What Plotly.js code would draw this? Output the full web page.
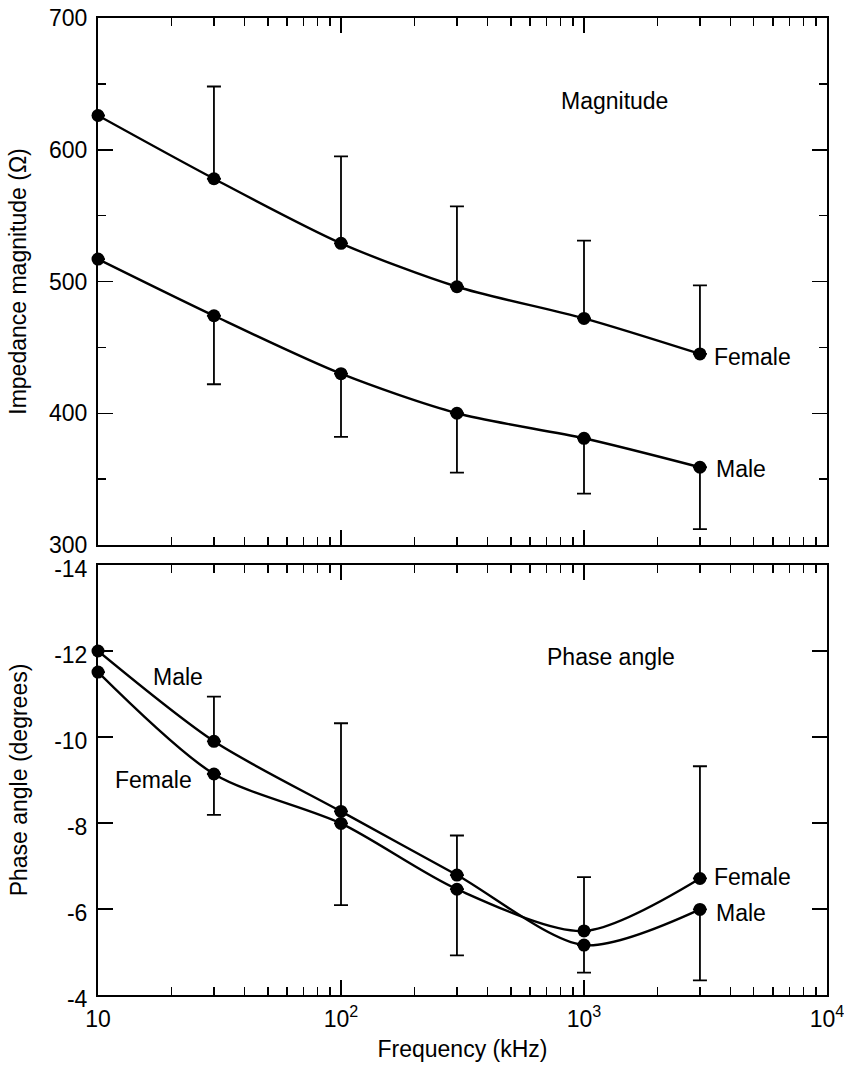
<!DOCTYPE html>
<html>
<head>
<meta charset="utf-8">
<script src="https://cdn.plot.ly/plotly-3.0.1.min.js"></script>
<style>html,body{margin:0;padding:0;background:#fff;}#chart{width:844px;height:1065px;}</style>
</head>
<body>
<div id="chart"></div>
<script>
// Frequencies (kHz)
const freq = [10, 30, 100, 300, 1000, 3000];

// Impedance magnitude (ohm)
const femaleMag = [626, 578, 529, 496, 472, 445];
const femaleMagUpper = [null, 648, 595, 557, 531, 497];
const maleMag = [517, 474, 430, 400, 381, 359];
const maleMagLower = [null, 422, 382, 355, 339, 312];

// Phase angle (degrees)
const malePhase = [-12.0, -9.9, -8.27, -6.79, -5.16, -5.99];
const femalePhase = [-11.51, -9.14, -7.99, -6.46, -5.49, -6.71];
// error bar ends
const malePhaseEnd = [null, -10.94, -10.32, -7.71, -4.52, -4.34];
const femalePhaseEnd = [null, -8.19, -6.09, -4.92, -6.74, -9.32];

// ticks
const majorTicks = [10, 100, 1000, 10000];
const majorText = ["10", "10<sup>2</sup>", "10<sup>3</sup>", "10<sup>4</sup>"];
const minorTicks = [20,30,40,50,60,70,80,90,200,300,400,500,600,700,800,900,2000,3000,4000,5000,6000,7000,8000,9000];
const magTicks = [300, 400, 500, 600, 700];
const magMinorTicks = [350, 450, 550, 650];
const phaseTicks = [-14, -12, -10, -8, -6, -4];
const phaseText = ["-14", "-12", "-10", "-8", "-6", "-4"];

function errs(vals, ends) {
  const plus = [], minus = [];
  for (let i = 0; i < vals.length; i++) {
    const e = ends[i];
    if (e === null) { plus.push(0); minus.push(0); }
    else if (e > vals[i]) { plus.push(e - vals[i]); minus.push(0); }
    else { plus.push(0); minus.push(vals[i] - e); }
  }
  return {type: 'data', symmetric: false, array: plus, arrayminus: minus,
          color: '#000', thickness: 1.8, width: 7};
}

const lineStyle = {color: '#000', width: 2.4, shape: 'spline', smoothing: 0.8};
const markerStyle = {color: '#000', size: 13};

const traces = [
  {x: freq, y: femaleMag, xaxis: 'x', yaxis: 'y', mode: 'lines+markers', line: lineStyle, marker: markerStyle,
   error_y: errs(femaleMag, femaleMagUpper), name: 'Female', cliponaxis: false},
  {x: freq, y: maleMag, xaxis: 'x', yaxis: 'y', mode: 'lines+markers', line: lineStyle, marker: markerStyle,
   error_y: errs(maleMag, maleMagLower), name: 'Male', cliponaxis: false},
  {x: freq, y: malePhase, xaxis: 'x2', yaxis: 'y2', mode: 'lines+markers', line: lineStyle, marker: markerStyle,
   error_y: errs(malePhase, malePhaseEnd), name: 'Male', cliponaxis: false},
  {x: freq, y: femalePhase, xaxis: 'x2', yaxis: 'y2', mode: 'lines+markers', line: lineStyle, marker: markerStyle,
   error_y: errs(femalePhase, femalePhaseEnd), name: 'Female', cliponaxis: false}
];

const fontFam = '"Liberation Sans", Arial, Helvetica, sans-serif';
const FS = 23;
const baseX = {
  type: 'log', range: [1, 4], tickmode: 'array', tickvals: majorTicks, ticktext: majorText,
  ticks: 'inside', ticklen: 15, tickwidth: 1.5, tickcolor: '#000',
  minor: {tickmode: 'array', tickvals: minorTicks, ticks: 'inside', ticklen: 8, tickwidth: 1.3, tickcolor: '#000'},
  showline: true, linecolor: '#000', linewidth: 2, mirror: 'ticks', showgrid: false, zeroline: false,
  ticklabeloverflow: 'allow'
};

const layout = {
  width: 844, height: 1065,
  margin: {l: 98, r: 17, t: 18, b: 70},
  paper_bgcolor: '#fff', plot_bgcolor: '#fff',
  showlegend: false,
  font: {family: fontFam, color: '#000', size: FS},
  xaxis: Object.assign({}, baseX, {domain: [0, 1], anchor: 'y', showticklabels: false}),
  xaxis2: Object.assign({}, baseX, {domain: [0, 1], anchor: 'y2', showticklabels: true,
    tickfont: {size: FS}, ticklabelstandoff: 2,
    title: {text: 'Frequency (kHz)', font: {size: FS}, standoff: 10}}),
  yaxis: {domain: [0.4606, 1], anchor: 'x', range: [300, 700], tickmode: 'array', tickvals: magTicks,
    ticks: 'inside', ticklen: 15, tickwidth: 1.5, tickcolor: '#000',
    minor: {tickmode: 'array', tickvals: magMinorTicks, ticks: 'inside', ticklen: 8, tickwidth: 1.3, tickcolor: '#000'},
    showline: true, linecolor: '#000', linewidth: 2, mirror: 'ticks', showgrid: false, zeroline: false,
    tickfont: {size: FS}, ticklabelstandoff: 4, ticklabeloverflow: 'allow',
    title: {text: 'Impedance magnitude (Ω)', font: {size: FS}, standoff: 16}},
  yaxis2: {domain: [0, 0.4401], anchor: 'x2', range: [-4, -14], tickmode: 'array', tickvals: phaseTicks, ticktext: phaseText,
    ticks: 'inside', ticklen: 15, tickwidth: 1.5, tickcolor: '#000',
    showline: true, linecolor: '#000', linewidth: 2, mirror: 'ticks', showgrid: false, zeroline: false,
    tickfont: {size: FS}, ticklabelstandoff: 4, ticklabelshift: -4, ticklabeloverflow: 'allow',
    title: {text: 'Phase angle (degrees)', font: {size: FS}, standoff: 20}},
  annotations: [
    {xref: 'x', yref: 'y', x: Math.log10(1340), y: 637, text: 'Magnitude', showarrow: false, xanchor: 'center', font: {size: FS}},
    {xref: 'x', yref: 'y', x: Math.log10(3000), y: 443, text: 'Female', showarrow: false, xanchor: 'left', xshift: 12, font: {size: FS}},
    {xref: 'x', yref: 'y', x: Math.log10(3000), y: 358, text: 'Male', showarrow: false, xanchor: 'left', xshift: 14, font: {size: FS}},
    {xref: 'x2', yref: 'y2', x: Math.log10(1290), y: -11.85, text: 'Phase angle', showarrow: false, xanchor: 'center', font: {size: FS}},
    {xref: 'x2', yref: 'y2', x: Math.log10(16.5), y: -11.4, text: 'Male', showarrow: false, xanchor: 'left', font: {size: FS}},
    {xref: 'x2', yref: 'y2', x: Math.log10(11.5), y: -9.0, text: 'Female', showarrow: false, xanchor: 'left', font: {size: FS}},
    {xref: 'x2', yref: 'y2', x: Math.log10(3000), y: -6.75, text: 'Female', showarrow: false, xanchor: 'left', xshift: 12, font: {size: FS}},
    {xref: 'x2', yref: 'y2', x: Math.log10(3000), y: -5.9, text: 'Male', showarrow: false, xanchor: 'left', xshift: 14, font: {size: FS}}
  ]
};

Plotly.newPlot('chart', traces, layout, {displayModeBar: false, staticPlot: true});
</script>
</body>
</html>
